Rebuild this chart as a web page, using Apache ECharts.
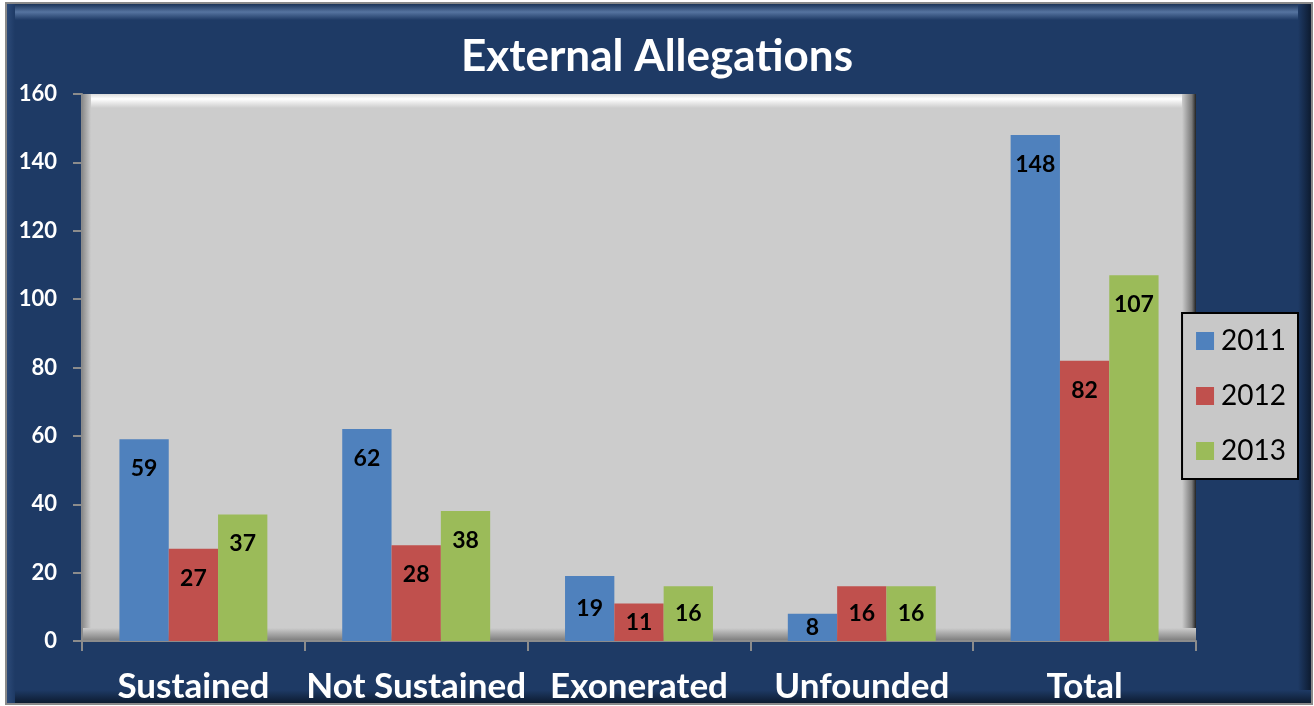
<!DOCTYPE html>
<html>
<head>
<meta charset="utf-8">
<script src="https://cdn.jsdelivr.net/npm/echarts@6/dist/echarts.min.js"></script>
<style>
  html, body { margin: 0; padding: 0; background: #fff; }
  #chart { width: 1314px; height: 706px; }
</style>
</head>
<body>
<div id="chart"></div>
<script>
const categories = ['Sustained', 'Not Sustained', 'Exonerated', 'Unfounded', 'Total']
const years = ['2011', '2012', '2013']
const values2011 = [59, 62, 19, 8, 148]
const values2012 = [27, 28, 11, 16, 82]
const values2013 = [37, 38, 16, 16, 107]
const colors = ['#4f81bd', '#c0504d', '#9bbb59']

const font = 'Lato, "Open Sans", sans-serif'

// short bars get their label centred, tall ones near the top
const toData = (arr) => arr.map(v => ({
  value: v,
  label: v < 20 ? { position: 'inside' } : undefined
}))

const makeSeries = (name, arr, color) => ({
  name: name,
  type: 'bar',
  data: toData(arr),
  barGap: '0%',
  barCategoryGap: '33.6%',
  z: 3,
  itemStyle: { color: color },
  label: {
    show: true,
    position: 'insideTop',
    distance: 18,
    color: '#000',
    fontWeight: 'bold',
    fontSize: 23,
    fontFamily: font
  }
})

const vGrad = (stops) => ({ type: 'linear', x: 0, y: 0, x2: 0, y2: 1, colorStops: stops })
const hGrad = (stops) => ({ type: 'linear', x: 0, y: 0, x2: 1, y2: 0, colorStops: stops })

const chart = echarts.init(document.getElementById('chart'))

const option = {
  animation: false,
  backgroundColor: '#ffffff',
  color: colors,
  title: {
    text: 'External Allegations',
    left: 'center',
    top: 30,
    textStyle: {
      color: '#fff',
      fontSize: 44,
      fontWeight: 'bold',
      fontFamily: font
    }
  },
  graphic: [
    // outer frame
    { type: 'rect', z: 0, shape: { x: 6, y: 3, width: 1306, height: 701 },
      style: { fill: '#1e3a65', stroke: '#8a8a8a', lineWidth: 2 } },
    { type: 'rect', z: 0, shape: { x: 7, y: 4, width: 1304, height: 16 },
      style: { fill: vGrad([{ offset: 0, color: '#1a3358' }, { offset: 0.5, color: '#5674a0' }, { offset: 1, color: '#1e3a65' }]) } },
    { type: 'rect', z: 0, shape: { x: 1298, y: 4, width: 13, height: 699 },
      style: { fill: hGrad([{ offset: 0, color: '#1e3a65' }, { offset: 1, color: '#0d1b30' }]) } },
    { type: 'rect', z: 0, shape: { x: 7, y: 690, width: 1304, height: 13 },
      style: { fill: vGrad([{ offset: 0, color: '#1e3a65' }, { offset: 1, color: '#0d1b30' }]) } },
    { type: 'rect', z: 0, shape: { x: 7, y: 4, width: 8, height: 699 },
      style: { fill: hGrad([{ offset: 0, color: '#2c4a78' }, { offset: 1, color: '#1e3a65' }]) } },
    // plot area bevel
    { type: 'rect', z: 1, shape: { x: 82, y: 94, width: 1114, height: 547 },
      style: { fill: '#cccccc' } },
    { type: 'rect', z: 1, shape: { x: 82, y: 94, width: 1114, height: 14 },
      style: { fill: vGrad([{ offset: 0, color: '#dcdcdc' }, { offset: 0.35, color: '#ffffff' }, { offset: 1, color: '#cccccc' }]) } },
    { type: 'rect', z: 1, shape: { x: 82, y: 94, width: 9, height: 547 },
      style: { fill: hGrad([{ offset: 0, color: '#8a8a8a' }, { offset: 1, color: '#cccccc' }]) } },
    { type: 'rect', z: 1, shape: { x: 1182, y: 94, width: 14, height: 547 },
      style: { fill: hGrad([{ offset: 0, color: '#cccccc' }, { offset: 0.7, color: '#7a7a7a' }, { offset: 1, color: '#222222' }]) } },
    { type: 'rect', z: 1, shape: { x: 82, y: 628, width: 1114, height: 13 },
      style: { fill: vGrad([{ offset: 0, color: '#cccccc' }, { offset: 1, color: '#7a7a7a' }]) } }
  ],
  legend: {
    data: years,
    orient: 'vertical',
    right: 16,
    top: 313,
    padding: [14, 12, 14, 14],
    itemGap: 27,
    itemWidth: 18,
    itemHeight: 18,
    icon: 'rect',
    backgroundColor: '#c8c8c8',
    borderColor: '#000',
    borderWidth: 2,
    borderRadius: 0,
    textStyle: {
      color: '#000',
      fontSize: 28,
      fontFamily: font,
      padding: [0, 0, 0, 2]
    }
  },
  grid: {
    left: 82,
    right: 118,
    top: 94,
    bottom: 65,
    containLabel: false
  },
  xAxis: {
    type: 'category',
    data: categories,
    axisLine: { show: true, lineStyle: { color: '#8c8c8c', width: 2 } },
    axisTick: { show: true, length: 10, lineStyle: { color: '#8c8c8c', width: 2 } },
    axisLabel: {
      interval: 0,
      color: '#fff',
      fontSize: 35,
      fontWeight: 'bold',
      fontFamily: font,
      margin: 28
    },
    z: 2
  },
  yAxis: {
    type: 'value',
    min: 0,
    max: 160,
    interval: 20,
    splitLine: { show: false },
    axisLine: { show: true, lineStyle: { color: '#8c8c8c', width: 2 } },
    axisTick: { show: true, length: 9, lineStyle: { color: '#8c8c8c', width: 2 } },
    axisLabel: {
      color: '#fff',
      fontSize: 22,
      fontWeight: 'bold',
      fontFamily: font,
      margin: 25
    },
    z: 2
  },
  series: [
    makeSeries(years[0], values2011, colors[0]),
    makeSeries(years[1], values2012, colors[1]),
    makeSeries(years[2], values2013, colors[2])
  ]
}

chart.setOption(option)
window.addEventListener('resize', () => chart.resize())
</script>
</body>
</html>
